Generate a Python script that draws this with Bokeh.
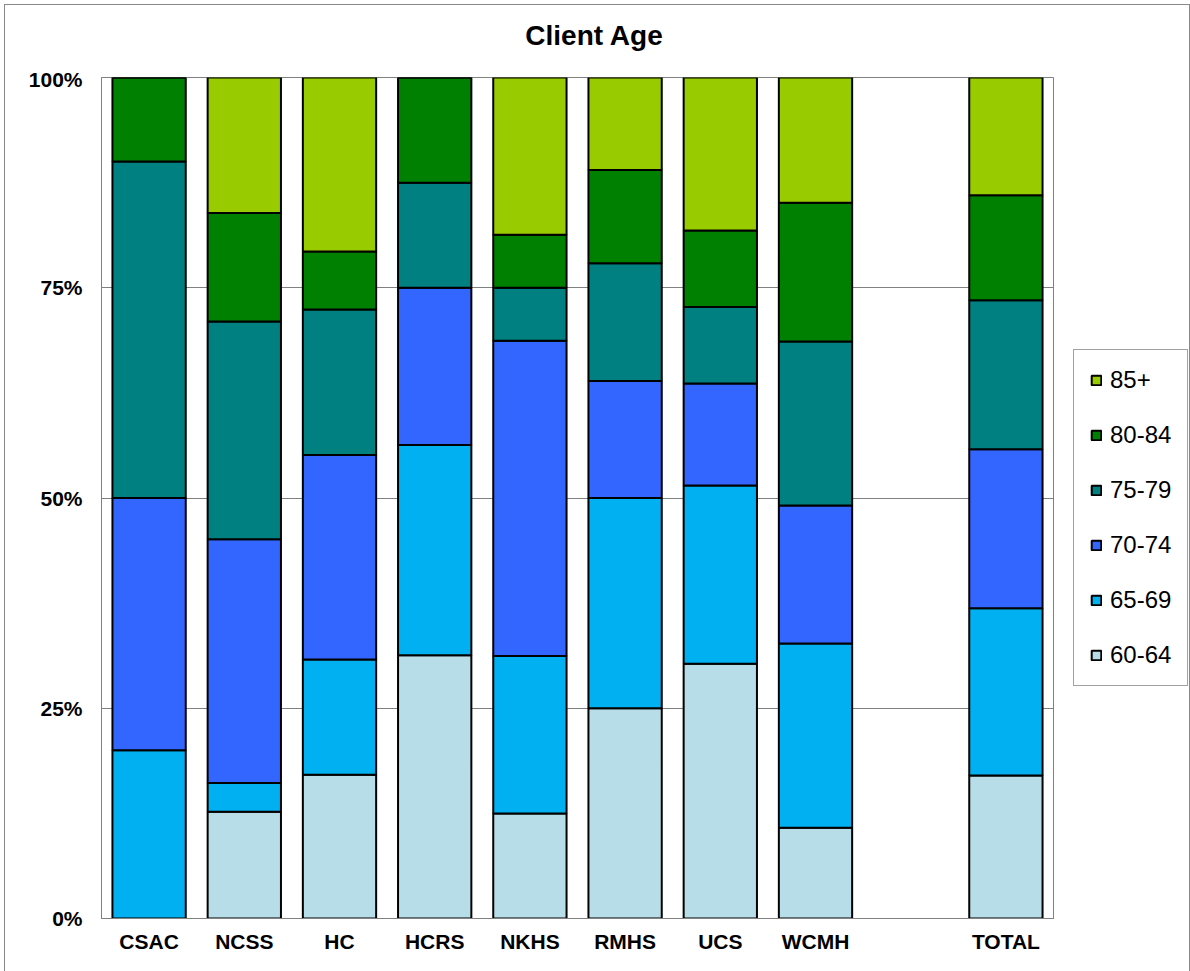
from bokeh.plotting import figure
from bokeh.layouts import row, column
from bokeh.models import ColumnDataSource, FactorRange, Legend, LegendItem, FixedTicker, PrintfTickFormatter, Div
from bokeh.embed import file_html
from bokeh.resources import INLINE

# ---- data (percent of clients in each age band) ----
title_text = "Client Age"
categories = ["CSAC", "NCSS", "HC", "HCRS", "NKHS", "RMHS", "UCS", "WCMH", "TOTAL"]
axis_factors = ["CSAC", "NCSS", "HC", "HCRS", "NKHS", "RMHS", "UCS", "WCMH", " ", "TOTAL"]
age_bands = ["60-64", "65-69", "70-74", "75-79", "80-84", "85+"]
age_60_64 = [0.0, 12.7, 17.1, 31.3, 12.5, 25.0, 30.3, 10.8, 17.0]
age_65_69 = [20.0, 3.4, 13.7, 25.0, 18.7, 25.0, 21.2, 21.9, 19.9]
age_70_74 = [30.0, 29.0, 24.3, 18.7, 37.5, 13.9, 12.1, 16.4, 18.9]
age_75_79 = [40.0, 25.9, 17.3, 12.5, 6.3, 14.0, 9.1, 19.5, 17.7]
age_80_84 = [10.0, 12.9, 6.9, 12.5, 6.3, 11.1, 9.1, 16.5, 12.5]
age_85_plus = [0.0, 16.1, 20.7, 0.0, 18.7, 11.0, 18.2, 14.9, 14.0]
y_ticks = [0, 25, 50, 75, 100]

colors = ["#B7DEE8", "#00B0F0", "#3366FF", "#008080", "#008000", "#99CC00"]

source = ColumnDataSource(dict(
    cat=categories,
    **{"60-64": age_60_64, "65-69": age_65_69, "70-74": age_70_74,
       "75-79": age_75_79, "80-84": age_80_84, "85+": age_85_plus}
))

FONT = "Liberation Sans"
H = 905

title = Div(text=title_text, width=1178, height=62, margin=(0, 0, 0, 0),
            styles={"font-family": FONT, "font-size": "28px", "font-weight": "bold",
                    "text-align": "center", "line-height": "62px", "color": "black"})

p = figure(
    x_range=FactorRange(factors=axis_factors, range_padding=0),
    y_range=(0, 100),
    width=1050, height=H,
    output_backend="svg", toolbar_location=None,
    min_border_left=96, min_border_right=2, min_border_top=10, min_border_bottom=54,
)

p.vbar_stack(age_bands, x="cat", width=0.77, source=source,
             fill_color=colors, line_color="black", line_width=2)

# axes
for ax in (p.xaxis[0], p.yaxis[0]):
    ax.major_label_text_font = FONT
    ax.major_label_text_font_size = "21px"
    ax.major_label_text_font_style = "bold"
    ax.major_label_text_color = "black"
    ax.major_tick_in = 0
    ax.major_tick_out = 0
    ax.minor_tick_in = 0
    ax.minor_tick_out = 0
    ax.axis_line_color = "#808080"
    ax.axis_line_width = 1

p.yaxis.ticker = FixedTicker(ticks=y_ticks)
p.yaxis.formatter = PrintfTickFormatter(format="%d%%")
p.yaxis.major_label_standoff = 19
p.xaxis.major_label_standoff = 11

p.xgrid.grid_line_color = None
p.ygrid.ticker = FixedTicker(ticks=y_ticks)
p.ygrid.grid_line_color = "#808080"
p.ygrid.grid_line_width = 1

p.outline_line_color = "#808080"
p.outline_line_width = 1
p.background_fill_color = "white"
p.border_fill_color = "white"

# ---- legend panel to the right of the plot area ----
# Its x range holds no category of the data, so the swatch renderers draw no bars.
pl = figure(width=134, height=H, x_range=FactorRange(factors=["legend"]), y_range=(0, 100),
            output_backend="svg", toolbar_location=None,
            min_border_left=0, min_border_right=0, min_border_top=0, min_border_bottom=0)
pl.axis.visible = False
pl.grid.grid_line_color = None
pl.outline_line_color = None
pl.background_fill_color = "white"
pl.border_fill_color = "white"

swatches = pl.vbar_stack(age_bands, x="cat", width=0.77, source=source,
                         fill_color=colors, line_color="black", line_width=2)
items = [LegendItem(label=band, renderers=[r]) for band, r in zip(age_bands, swatches)][::-1]
legend = Legend(items=items, location=(18, 232), orientation="vertical")
legend.label_text_font = FONT
legend.label_text_font_size = "24px"
legend.label_text_color = "black"
legend.glyph_width = 12
legend.glyph_height = 12
legend.label_standoff = 8
legend.label_height = 28
legend.spacing = 27
legend.padding = 16
legend.margin = 0
legend.border_line_color = "#444444"
legend.border_line_width = 1
legend.background_fill_color = "white"
legend.background_fill_alpha = 1.0
pl.add_layout(legend, "center")

layout = column(title, row(p, pl, spacing=0), spacing=0)
layout.styles = {"border": "1px solid #888888", "margin": "4px"}

open("out.html", "w").write(file_html(layout, INLINE))
